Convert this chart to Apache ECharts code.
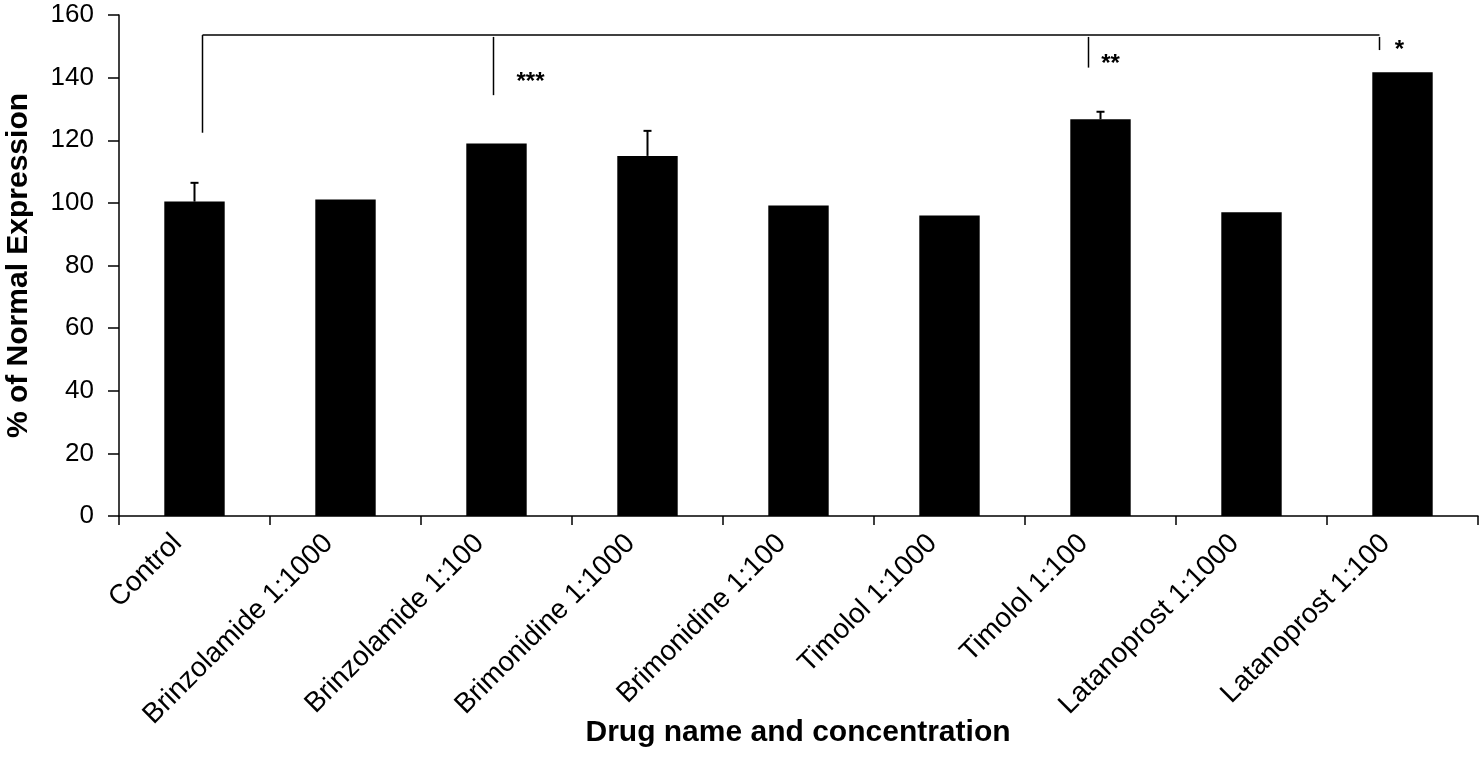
<!DOCTYPE html>
<html><head><meta charset="utf-8">
<script src="https://cdn.jsdelivr.net/npm/echarts@6/dist/echarts.min.js"></script>
<style>html,body{margin:0;padding:0;background:#fff}#c{width:1481px;height:757px}</style>
</head><body><div id="c"></div>
<script>
// ---- data ----
const categories = ['Control', 'Brinzolamide 1:1000', 'Brinzolamide 1:100', 'Brimonidine 1:1000',
  'Brimonidine 1:100', 'Timolol 1:1000', 'Timolol 1:100', 'Latanoprost 1:1000', 'Latanoprost 1:100'];
const values = [100.4, 101.1, 119.0, 115.0, 99.2, 96.0, 126.7, 97.0, 141.7];
const errors = [6.0, null, null, 8.0, null, null, 2.4, null, null];
const yTicks = { min: 0, max: 160, step: 20 };
const xTitle = 'Drug name and concentration';
const yTitle = '% of Normal Expression';

// significance annotation (compared with Control)
const sigTargets = ['Brinzolamide 1:100', 'Timolol 1:100', 'Latanoprost 1:100'];
const sigMarks = ['***', '**', '*'];
const sigLineBottoms = [134.4, 143.2, 148.8];
const sigMarkLevels = [140.5, 146.0, 150.6];
const controlLineBottom = 122.4;
const bracketLevel = 153.6;
const sigLineTop = 153.0;

// ---- styling ----
const FONT = "'Liberation Sans', Arial, Helvetica, sans-serif";
const controlDx = 8;             // px offset of control bracket leg
const sigDx = [-3, -12, -23];    // px offsets of target legs
const markDx = [37, 22, 20];     // px offset of star labels from legs

const chart = echarts.init(document.getElementById('c'));

const errorData = categories.map((c, i) => errors[i] == null ? null : [i, values[i] + errors[i], values[i]]).filter(d => d);

const option = {
  animation: false,
  backgroundColor: '#fff',
  title: {
    text: xTitle,
    left: 798, top: 718, textAlign: 'center', padding: 0,
    textStyle: { fontSize: 30, fontWeight: 'bold', color: '#000', fontFamily: FONT }
  },
  grid: { left: 119, right: 3, top: 15, bottom: 241, containLabel: false, outerBoundsMode: 'none' },
  xAxis: {
    type: 'category',
    data: categories,
    boundaryGap: true,
    axisLine: { lineStyle: { color: '#000', width: 1.5 } },
    axisTick: { show: true, length: 9, alignWithLabel: false, lineStyle: { color: '#000', width: 1.5 } },
    axisLabel: { rotate: 45, margin: 6, padding: [0, 24, 0, 0], interval: 0, color: '#000', fontSize: 28, fontFamily: FONT, hideOverlap: false }
  },
  yAxis: {
    type: 'value',
    min: yTicks.min, max: yTicks.max, interval: yTicks.step,
    axisLine: { show: true, lineStyle: { color: '#000', width: 1.5 } },
    axisTick: { show: true, length: 11, lineStyle: { color: '#000', width: 1.5 } },
    axisLabel: { margin: 25, color: '#000', fontSize: 26, fontFamily: FONT },
    splitLine: { show: false },
    name: yTitle,
    nameLocation: 'middle',
    nameGap: 85,
    nameRotate: 90,
    nameTextStyle: { fontSize: 30, fontWeight: 'bold', color: '#000', fontFamily: FONT }
  },
  series: [
    {
      type: 'bar',
      data: values,
      barWidth: '40%',
      itemStyle: { color: '#000' },
      z: 2
    },
    {
      type: 'custom',
      data: errorData,
      z: 3,
      renderItem: function (params, api) {
        const top = api.coord([api.value(0), api.value(1)]);
        const base = api.coord([api.value(0), api.value(2)]);
        const capHalf = 4;
        const st = { stroke: '#000', lineWidth: 2 };
        return {
          type: 'group',
          children: [
            { type: 'line', shape: { x1: top[0], y1: base[1], x2: top[0], y2: top[1] }, style: st },
            { type: 'line', shape: { x1: top[0] - capHalf, y1: top[1], x2: top[0] + capHalf, y2: top[1] }, style: st }
          ]
        };
      }
    },
    {
      type: 'custom',
      data: [[0]],
      z: 4,
      clip: false,
      renderItem: function (params, api) {
        const st = { stroke: '#000', lineWidth: 1.5 };
        const children = [];
        const cBot = api.coord([0, controlLineBottom]);
        const cTop = api.coord([0, bracketLevel]);
        const cx = cBot[0] + controlDx;
        const lastIdx = categories.indexOf(sigTargets[sigTargets.length - 1]);
        const endX = api.coord([lastIdx, bracketLevel])[0] + sigDx[sigDx.length - 1];
        children.push({ type: 'line', shape: { x1: cx, y1: cBot[1], x2: cx, y2: cTop[1] }, style: st });
        children.push({ type: 'line', shape: { x1: cx, y1: cTop[1], x2: endX, y2: cTop[1] }, style: st });
        sigTargets.forEach((t, k) => {
          const idx = categories.indexOf(t);
          const b = api.coord([idx, sigLineBottoms[k]]);
          const tp = api.coord([idx, sigLineTop]);
          const x = b[0] + sigDx[k];
          children.push({ type: 'line', shape: { x1: x, y1: b[1], x2: x, y2: tp[1] }, style: st });
          const m = api.coord([idx, sigMarkLevels[k]]);
          children.push({
            type: 'text',
            style: {
              text: sigMarks[k], x: x + markDx[k], y: m[1] + 6,
              align: 'center', verticalAlign: 'middle',
              font: 'bold 24px ' + FONT, fill: '#000'
            }
          });
        });
        return { type: 'group', children: children };
      }
    }
  ]
};
chart.setOption(option);
</script>
</body></html>
